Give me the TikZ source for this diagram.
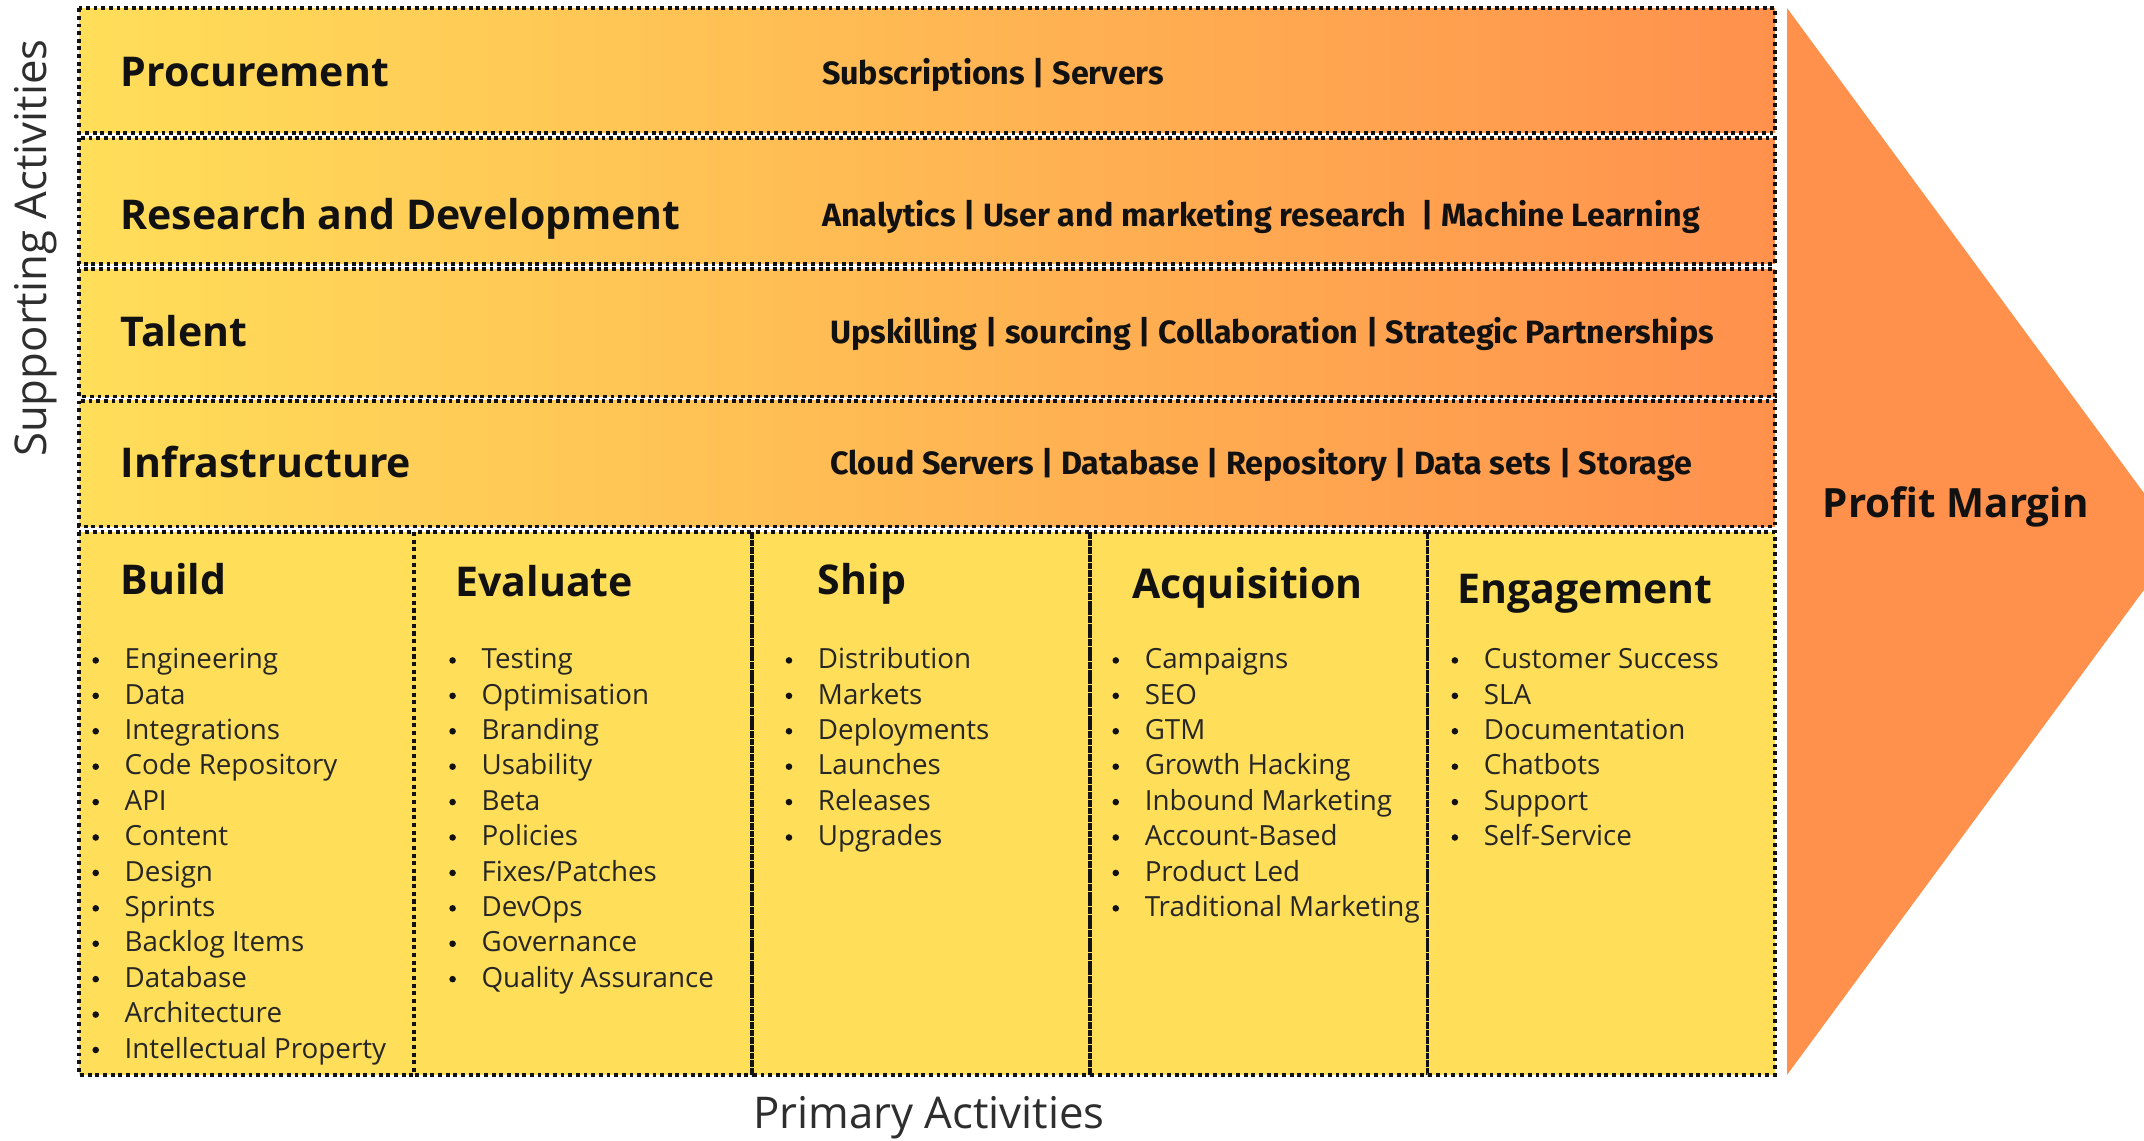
\documentclass[tikz,border=0pt]{standalone}
\usepackage{fontspec}
\setmainfont{Open Sans}
\newfontfamily\barfont{Fira Sans}
\newfontfamily\listfont{Open Sans}
\newfontfamily\axisfont{Open Sans}

\definecolor{vcyellow}{HTML}{FFDE59}
\definecolor{vcorange}{HTML}{FF914D}
\definecolor{vcink}{HTML}{111111}
\definecolor{vctext}{HTML}{262626}
\definecolor{vcaxis}{HTML}{2E2E2E}

\tikzset{
  dotline/.style={draw=vcink, line width=2.8pt, dash pattern=on 2.8pt off 2.8pt},
  rowlabel/.style={anchor=base west, inner sep=0pt, text=vcink,
    font=\fontsize{30}{33}\selectfont\bfseries},
  rowdetail/.style={anchor=base west, inner sep=0pt, text=vcink,
    font=\barfont\fontsize{23.6}{27}\selectfont\bfseries},
  colhead/.style={anchor=base west, inner sep=0pt, text=vcink,
    font=\fontsize{30}{33}\selectfont\bfseries},
  itemtext/.style={anchor=base west, inner sep=0pt, text=vctext,
    font=\listfont\fontsize{20.3}{24}\selectfont},
  bulletdot/.style={circle, fill=vcink, inner sep=0pt, minimum size=4.8pt},
  axislabel/.style={anchor=base, inner sep=0pt, text=vcaxis,
    font=\axisfont\fontsize{32}{36}\selectfont},
}

% bullet list: name, bullet x, first baseline, items
\newcommand\vcitems[4]{%
  \foreach \txt [count=\k] in {#4} {
    \node[bulletdot] (#1-b\k) at (#2, #3-6+\k*25.9-25.9) {};
    \node[itemtext] (#1-\k) at (#2+21, #3+\k*25.9-25.9) {\txt};
  }%
}

\begin{document}
\begin{tikzpicture}[x=1pt, y=-1pt]
\useasboundingbox (0,0) rectangle (1568,834);
\clip (0,0) rectangle (1568,834);

% margin arrow
\fill[vcorange] (1307,6) -- (1594,396) -- (1307,786) -- cycle;

% support activity bands
\foreach \ya/\yb in {6/97, 101/193, 197/290, 293/385} {
  \shade[left color=vcyellow, right color=vcorange] (58,\ya) rectangle (1298,\yb);
  \draw[dotline] (58,\ya) rectangle (1298,\yb);
}

% primary activity columns
\fill[vcyellow] (58,389) rectangle (1298,786);
\foreach \xa/\xb in {58/303, 303/550, 550/797, 797/1044, 1044/1298} {
  \draw[dotline] (\xa,389) rectangle (\xb,786);
}

% support activity labels
\node[rowlabel] (proc) at (88,63.5) {Procurement};
\node[rowlabel] (rnd) at (88,167.5) {Research and Development};
\node[rowlabel] (talent) at (88,253.5) {Talent};
\node[rowlabel] (infra) at (88,349.5) {Infrastructure};

\node[rowdetail] (procd) at (601,62) {Subscriptions | Servers};
\node[rowdetail] (rndd) at (601,166) {Analytics | User and marketing research \ | Machine Learning};
\node[rowdetail] (talentd) at (607,251) {Upskilling | sourcing | Collaboration | Strategic Partnerships};
\node[rowdetail] (infrad) at (607,347) {Cloud Servers | Database | Repository | Data sets | Storage};

% primary activity headings
\node[colhead] (build) at (88,434.5) {Build};
\node[colhead] (evaluate) at (333,436.5) {Evaluate};
\node[colhead] (ship) at (598,434.5) {Ship};
\node[colhead] (acq) at (828,437.5) {Acquisition};
\node[colhead] (engage) at (1066,441.5) {Engagement};

% primary activity items
\vcitems{bl}{70}{489}{Engineering, Data, Integrations, Code Repository, API, Content, Design, Sprints, Backlog Items, Database, Architecture, Intellectual Property}
\vcitems{ev}{331}{489}{Testing, Optimisation, Branding, Usability, Beta, Policies, Fixes/Patches, DevOps, Governance, Quality Assurance}
\vcitems{sh}{577}{489}{Distribution, Markets, Deployments, Launches, Releases, Upgrades}
\vcitems{ac}{816}{489}{Campaigns, SEO, GTM, Growth Hacking, Inbound Marketing, Account-Based, Product Led, Traditional Marketing}
\vcitems{en}{1064}{489}{Customer Success, SLA, Documentation, Chatbots, Support, Self-Service}

% margin and axis labels
\node[anchor=base west, inner sep=0pt, text=vcink, font=\fontsize{29.5}{32}\selectfont\bfseries] (margin) at (1333,378.5) {Profit Margin};
\node[axislabel, rotate=90] (support) at (34,181.5) {Supporting Activities};
\node[axislabel] (primary) at (679.5,825.5) {Primary Activities};
\end{tikzpicture}
\end{document}
